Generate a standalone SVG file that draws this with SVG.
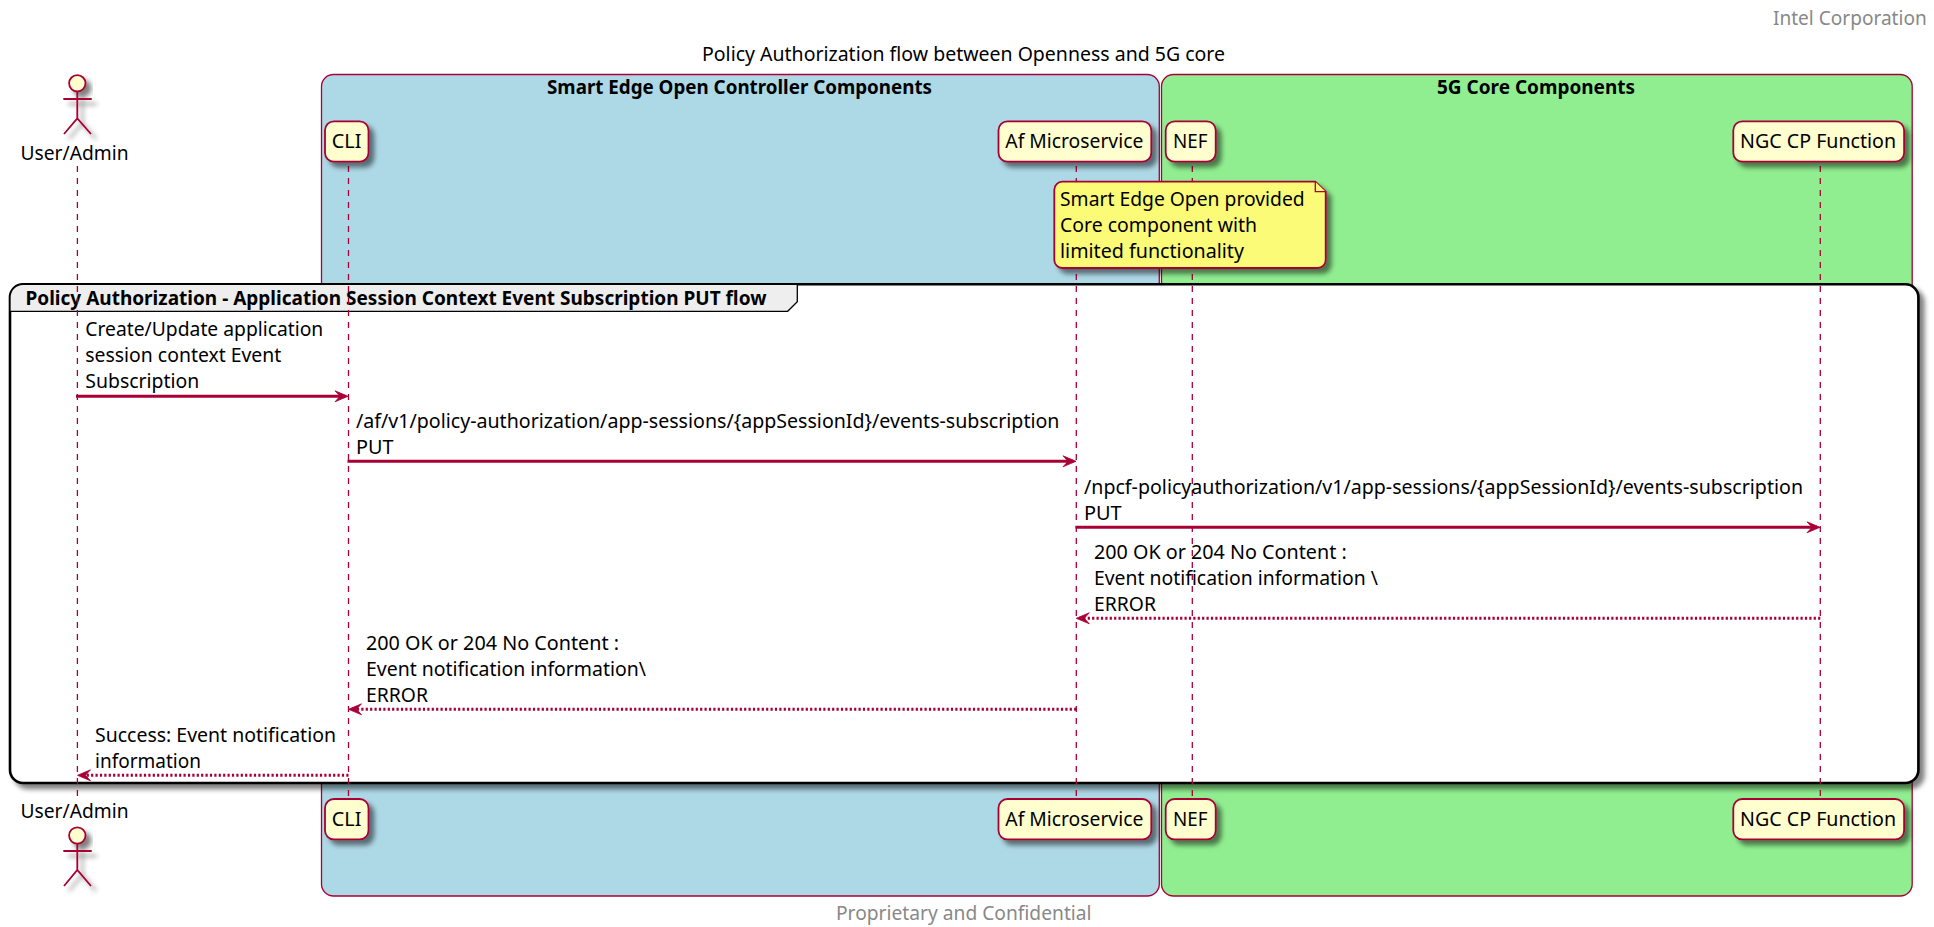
<svg xmlns="http://www.w3.org/2000/svg" width="1934" height="927" viewBox="0 0 1934 927">
<style>
text{font-family:"Noto Sans","Liberation Sans",sans-serif;font-size:19px;fill:#000}
.b{font-weight:700}
.g{fill:#888888}
.box{stroke:#A80036;stroke-width:1.3}
.life{stroke:#A80036;stroke-width:1.3;stroke-dasharray:6 6;fill:none}
.p{fill:#FEFECE;stroke:#A80036;stroke-width:1.8;filter:url(#sh)}
.act{fill:none;stroke:#A80036;stroke-width:1.8;filter:url(#sh)}
.head{fill:#FEFECE;stroke:#A80036;stroke-width:1.8;filter:url(#sh)}
.m{stroke:#A80036;stroke-width:3;fill:none}
.d{stroke-dasharray:2.2 2.2}
.ah{fill:#A80036;stroke:#A80036;stroke-width:.8}
</style>
<defs>
<filter id="sh" x="-30%" y="-30%" width="170%" height="170%"><feGaussianBlur in="SourceAlpha" stdDeviation="2.5"/><feOffset dx="5" dy="5"/><feComponentTransfer><feFuncA type="linear" slope="0.5"/></feComponentTransfer><feMerge><feMergeNode/><feMergeNode in="SourceGraphic"/></feMerge></filter>
<marker id="ar" markerUnits="userSpaceOnUse" viewBox="-11 -7 15 14" refX="0" refY="0" markerWidth="15" markerHeight="14" orient="auto"><path class="ah" d="M3,0L-10,-5.5L-5,0L-10,5.5Z"/></marker>
</defs>
<text id="header" class="g" x="1773" y="25" textLength="153.7" lengthAdjust="spacingAndGlyphs">Intel Corporation</text>
<text id="title" x="702" y="61" textLength="523" lengthAdjust="spacingAndGlyphs">Policy Authorization flow between Openness and 5G core</text>
<g id="box-controller"><rect class="box" x="321.5" y="74.5" width="837.8" height="821.5" rx="12" fill="#ADD8E6"/><text class="b" x="547" y="94" textLength="385" lengthAdjust="spacingAndGlyphs">Smart Edge Open Controller Components</text></g>
<g id="box-core"><rect class="box" x="1161.5" y="74.5" width="750.7" height="821.5" rx="12" fill="#90EE90"/><text class="b" x="1437" y="94" textLength="198" lengthAdjust="spacingAndGlyphs">5G Core Components</text></g>
<g id="group-frame"><rect x="10" y="284.3" width="1908.4" height="498.7" rx="13" fill="#fff" stroke="#000" stroke-width="2.6" filter="url(#sh)"/><path d="M10,311.3V297A13,13 0 0 1 23,284.3H797.3V301.7L787.7,311.3Z" fill="#EEEEEE" stroke="#000" stroke-width="1.3"/><text class="b" x="25.5" y="305" textLength="741" lengthAdjust="spacingAndGlyphs">Policy Authorization - Application Session Context Event Subscription PUT flow</text></g>
<g id="lifelines"><path class="life" d="M77.4,166V800M348.5,166V800M1076.3,166V800M1192.3,166V800M1820.3,166V800"/></g>
<g id="actor-top"><ellipse class="head" cx="77.3" cy="83.3" rx="8.2" ry="8.2"/><path class="act" d="M77.3,91.5V118.3M63.3,99H91.7M64,134L77.3,118.3L91,134"/><text x="20.5" y="160" textLength="108" lengthAdjust="spacingAndGlyphs">User/Admin</text></g>
<g id="actor-bottom"><text x="20.5" y="818" textLength="108" lengthAdjust="spacingAndGlyphs">User/Admin</text><ellipse class="head" cx="77.3" cy="835.5" rx="8.2" ry="8.2"/><path class="act" d="M77.3,844V870M63.3,851H91.7M64,886L77.3,870L91,886"/></g>
<g id="cli-top"><rect class="p" x="325" y="121.3" width="43.5" height="40.4" rx="9"/><text x="331.8" y="148" textLength="29.6" lengthAdjust="spacingAndGlyphs">CLI</text></g>
<g id="af-top"><rect class="p" x="998.5" y="121.3" width="152.8" height="40.4" rx="9"/><text x="1005.3" y="148" textLength="138" lengthAdjust="spacingAndGlyphs">Af Microservice</text></g>
<g id="nef-top"><rect class="p" x="1165.7" y="121.3" width="50" height="40.4" rx="9"/><text x="1173" y="148" textLength="34.5" lengthAdjust="spacingAndGlyphs">NEF</text></g>
<g id="ngc-top"><rect class="p" x="1733.3" y="121.3" width="170.8" height="40.4" rx="9"/><text x="1740.1" y="148" textLength="156" lengthAdjust="spacingAndGlyphs">NGC CP Function</text></g>
<g id="cli-bottom"><rect class="p" x="325" y="799" width="43.5" height="40.4" rx="9"/><text x="331.8" y="826" textLength="29.6" lengthAdjust="spacingAndGlyphs">CLI</text></g>
<g id="af-bottom"><rect class="p" x="998.5" y="799" width="152.8" height="40.4" rx="9"/><text x="1005.3" y="826" textLength="138" lengthAdjust="spacingAndGlyphs">Af Microservice</text></g>
<g id="nef-bottom"><rect class="p" x="1165.7" y="799" width="50" height="40.4" rx="9"/><text x="1173" y="826" textLength="34.5" lengthAdjust="spacingAndGlyphs">NEF</text></g>
<g id="ngc-bottom"><rect class="p" x="1733.3" y="799" width="170.8" height="40.4" rx="9"/><text x="1740.1" y="826" textLength="156" lengthAdjust="spacingAndGlyphs">NGC CP Function</text></g>
<g id="note"><path class="p" style="fill:#FBFB77" d="M1062.3,181.7H1315.3L1325.7,191.7V260A8,8 0 0 1 1317.7,268H1062.3A8,8 0 0 1 1054.3,260V189.7A8,8 0 0 1 1062.3,181.7Z"/><path d="M1315.3,181.7V191.7H1325.7" fill="#FBFB77" stroke="#A80036" stroke-width="1.3"/><text x="1060" y="205.8" textLength="244.7" lengthAdjust="spacingAndGlyphs">Smart Edge Open provided</text><text x="1060" y="231.8" textLength="197" lengthAdjust="spacingAndGlyphs">Core component with</text><text x="1060" y="257.8" textLength="184" lengthAdjust="spacingAndGlyphs">limited functionality</text></g>
<g id="connectors">
<path class="m" marker-end="url(#ar)" d="M76,396.3H345"/>
<path class="m" marker-end="url(#ar)" d="M347.5,461.3H1073"/>
<path class="m" marker-end="url(#ar)" d="M1075.5,527.3H1817"/>
<path class="m d" marker-end="url(#ar)" d="M1820.3,618.3H1079.3"/>
<path class="m d" marker-end="url(#ar)" d="M1076.3,709.3H351.5"/>
<path class="m d" marker-end="url(#ar)" d="M348.5,775.3H80.5"/>
</g>
<g id="labels">
<text x="85.3" y="336" textLength="238" lengthAdjust="spacingAndGlyphs">Create/Update application</text>
<text x="85.3" y="362" textLength="196" lengthAdjust="spacingAndGlyphs">session context Event</text>
<text x="85.3" y="388" textLength="114" lengthAdjust="spacingAndGlyphs">Subscription</text>
<text x="356" y="428" textLength="703.5" lengthAdjust="spacingAndGlyphs">/af/v1/policy-authorization/app-sessions/{appSessionId}/events-subscription</text>
<text x="356" y="454" textLength="37.5" lengthAdjust="spacingAndGlyphs">PUT</text>
<text x="1084" y="494" textLength="719" lengthAdjust="spacingAndGlyphs">/npcf-policyauthorization/v1/app-sessions/{appSessionId}/events-subscription</text>
<text x="1084" y="519.5" textLength="37.7" lengthAdjust="spacingAndGlyphs">PUT</text>
<text x="1094" y="559" textLength="252.7" lengthAdjust="spacingAndGlyphs">200 OK or 204 No Content :</text>
<text x="1094" y="585" textLength="284" lengthAdjust="spacingAndGlyphs">Event notification information \</text>
<text x="1094" y="611" textLength="62" lengthAdjust="spacingAndGlyphs">ERROR</text>
<text x="366" y="650" textLength="253" lengthAdjust="spacingAndGlyphs">200 OK or 204 No Content :</text>
<text x="366" y="676" textLength="280" lengthAdjust="spacingAndGlyphs">Event notification information\</text>
<text x="366" y="702" textLength="62" lengthAdjust="spacingAndGlyphs">ERROR</text>
<text x="95" y="742" textLength="241" lengthAdjust="spacingAndGlyphs">Success: Event notification</text>
<text x="95" y="768" textLength="106" lengthAdjust="spacingAndGlyphs">information</text>
</g>
<text id="footer" class="g" x="836" y="920" textLength="255.5" lengthAdjust="spacingAndGlyphs">Proprietary and Confidential</text>
</svg>
